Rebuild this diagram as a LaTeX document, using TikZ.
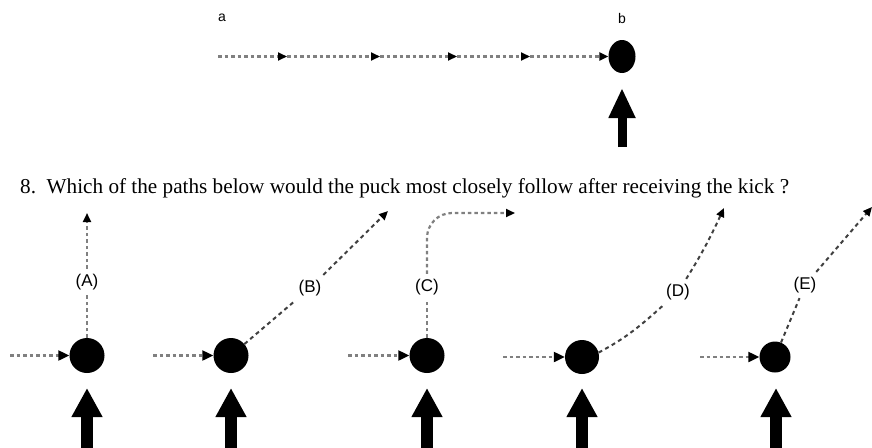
\documentclass[tikz,border=0pt]{standalone}
\usepackage{fontspec}
\setmainfont{Liberation Serif}
\setsansfont{Liberation Sans}
\usetikzlibrary{arrows.meta,shapes.geometric}
\begin{document}
\begin{tikzpicture}[x=1pt,y=-1pt,
  puck/.style={circle,fill=black,inner sep=0pt,minimum size=35pt},
  dotl/.style={draw=black!50,line width=2.2pt,dash pattern=on 3.5pt off 3pt},
  dshl/.style={draw=black!75,line width=2pt,dash pattern=on 4pt off 3.5pt},
  tipa/.style={-{Triangle[length=11pt,width=10pt,color=black,fill=black]}},
  tipb/.style={-{Triangle[length=9pt,width=8pt,color=black,fill=black]}},
  lbl/.style={font=\sffamily\fontsize{17}{17}\selectfont,inner sep=5pt},
  kick/.style={line width=12pt,-{Triangle[length=29pt,width=29pt]}}
]
\useasboundingbox (0,0) rectangle (872,447);
\clip (0,0) rectangle (872,447);

% ---- top part ----
\node[font=\sffamily\fontsize{14}{14}\selectfont] (la) at (222,18) {a};
\node[font=\sffamily\fontsize{14}{14}\selectfont] (lb) at (622,18) {b};
\node[ellipse,fill=black,inner sep=0pt,minimum width=27pt,minimum height=33pt] (pb) at (622,56.5) {};
\coordinate (t0) at (218,56.5);
\coordinate (t1) at (287,56.5);
\coordinate (t2) at (380,56.5);
\coordinate (t3) at (457,56.5);
\coordinate (t4) at (530,56.5);
\draw[dotl,tipb] (t0) -- (t1);
\draw[dotl,tipb] (t1) -- (t2);
\draw[dotl,tipb] (t2) -- (t3);
\draw[dotl,tipb] (t3) -- (t4);
\draw[dotl,tipb] (t4) -- (pb.west);
\coordinate (kb0) at (622,147);
\coordinate (kb1) at (622,88);
\draw[line width=9pt,-{Triangle[length=30pt,width=25pt]}] (kb0) -- (kb1);

% ---- question ----
\node[anchor=west,font=\fontsize{21.2}{21.2}\selectfont,inner sep=0pt] (q) at (20,188)
  {8.\hspace{0.5em}Which of the paths below would the puck most closely follow after receiving the kick ?};

% ---- pucks ----
\node[puck] (pA) at (87,355.5) {};
\node[puck] (pB) at (231,355.5) {};
\node[puck] (pC) at (427,355.5) {};
\node[puck,minimum size=34pt] (pD) at (582,357) {};
\node[puck,minimum size=31pt] (pE) at (775,357) {};

% incoming paths
\coordinate (iA) at (10,355.5);
\coordinate (iB) at (153,355.5);
\coordinate (iC) at (348,355.5);
\coordinate (iD) at (503,357);
\coordinate (iE) at (700,357);
\draw[dotl,tipa] (iA) -- (pA.west);
\draw[dotl,tipa] (iB) -- (pB.west);
\draw[dotl,tipa] (iC) -- (pC.west);
\draw[dotl,tipa] (iD) -- (pD.west);
\draw[dotl,tipa] (iE) -- (pE.west);

% kicks
\foreach \n/\x in {A/87,B/231,C/427,D/582,E/776}{
  \coordinate (k\n0) at (\x,460);
  \coordinate (k\n1) at (\x,388);
  \draw[kick] (k\n0) -- (k\n1);
}

% labels
\node[lbl] (lA) at (87,282) {(A)};
\node[lbl] (lB) at (310,288) {(B)};
\node[lbl] (lC) at (427,287) {(C)};
\node[lbl] (lD) at (678,292) {(D)};
\node[lbl] (lE) at (805,285) {(E)};

% tips
\coordinate (tA) at (87,213);
\coordinate (tB) at (388,211);
\coordinate (tC) at (515,213);
\coordinate (tD) at (724,208);
\coordinate (tE) at (872,207);

% A
\draw[dotl] (pA.north) -- (lA);
\draw[dotl,tipb] (lA) -- (tA);
% B
\draw[dshl] (pB) -- (lB);
\draw[dshl,tipb] (lB) -- (tB);
% C
\draw[dotl] (pC.north) -- (lC);
\draw[dotl,tipb,rounded corners=25pt] (lC) |- (tC);
% D
\draw[dshl] (pD.15) to[out=28,in=222] (lD);
\draw[dshl,tipb] (lD) to[out=58,in=245] (tD);
% E
\draw[dshl] (pE) -- (lE);
\draw[dshl,tipb] (lE) -- (tE);
\end{tikzpicture}
\end{document}
